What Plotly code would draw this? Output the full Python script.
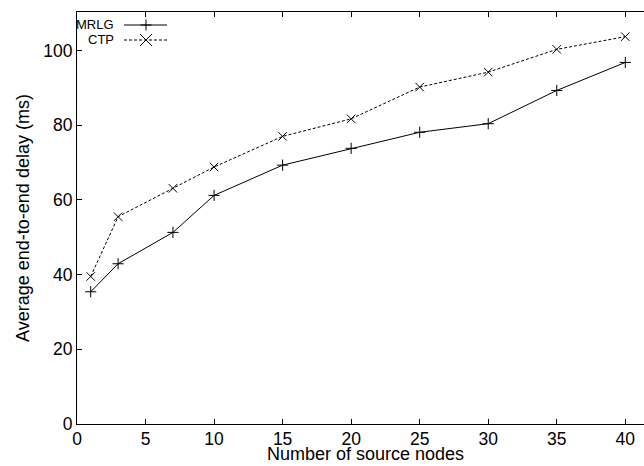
import plotly.graph_objects as go

# Number of source nodes and measured average end-to-end delay (ms)
source_nodes = [1, 3, 7, 10, 15, 20, 25, 30, 35, 40]
mrlg_delay = [35.4, 42.9, 51.3, 61.2, 69.3, 73.8, 78.1, 80.4, 89.3, 96.8]
ctp_delay = [39.5, 55.5, 63.1, 68.8, 77.0, 81.7, 90.2, 94.2, 100.3, 103.7]
series_names = ["MRLG", "CTP"]
x_ticks = [0, 5, 10, 15, 20, 25, 30, 35, 40]
y_ticks = [0, 20, 40, 60, 80, 100]

W, H = 644, 466
L, R, T, B = 77, 0, 12, 42
FONT = "Liberation Sans, Arial, Helvetica, sans-serif"


def px_x(px):
    return (px - L) / (W - L - R)


def px_y(py):
    return (H - B - py) / (H - T - B)


fig = go.Figure()
fig.add_trace(go.Scatter(
    x=source_nodes, y=mrlg_delay, name=series_names[0], mode="lines+markers",
    line=dict(color="black", width=1),
    marker=dict(symbol="cross-thin-open", size=8, line=dict(color="black", width=1)),
))
fig.add_trace(go.Scatter(
    x=source_nodes, y=ctp_delay, name=series_names[1], mode="lines+markers",
    line=dict(color="black", width=1, dash="3px,2px"),
    marker=dict(symbol="x-thin-open", size=8.5, line=dict(color="black", width=1)),
))

# Key in the upper-left corner: label, line sample, point symbol
shapes = []
annotations = []
key_rows = [(series_names[0], 25, "solid", "plus"), (series_names[1], 40, "3px,2px", "x")]
for name, row_y, dash, sym in key_rows:
    annotations.append(dict(
        x=px_x(116), y=px_y(row_y), xref="paper", yref="paper", text=name,
        showarrow=False, xanchor="right", yanchor="middle",
        font=dict(family=FONT, size=13, color="black"),
    ))
    shapes.append(dict(
        type="line", xref="paper", yref="paper",
        x0=px_x(124), x1=px_x(167), y0=px_y(row_y), y1=px_y(row_y),
        line=dict(color="black", width=1, dash=dash),
    ))
    cx, cy = px_x(146), px_y(row_y)
    if sym == "plus":
        segs = [(-5.5, 0, 5.5, 0), (0, -5.5, 0, 5.5)]
    else:
        segs = [(-6, -6, 6, 6), (-6, 6, 6, -6)]
    for x0, y0, x1, y1 in segs:
        shapes.append(dict(
            type="line", xref="paper", yref="paper",
            xsizemode="pixel", ysizemode="pixel", xanchor=cx, yanchor=cy,
            x0=x0, x1=x1, y0=y0, y1=y1, line=dict(color="black", width=1),
        ))

annotations.append(dict(
    x=px_x(365), y=px_y(466), xref="paper", yref="paper",
    text="Number of source nodes", showarrow=False,
    xanchor="center", yanchor="bottom",
    font=dict(family=FONT, size=18, color="black"),
))

fig.update_layout(
    width=W, height=H,
    margin=dict(l=L, r=R, t=T, b=B, pad=0),
    paper_bgcolor="white", plot_bgcolor="white",
    showlegend=False,
    font=dict(family=FONT, size=18, color="black"),
    shapes=shapes, annotations=annotations,
    xaxis=dict(
        range=[0, (W - L - R) / ((625 - 76.7) / 40)],
        tickvals=x_ticks, ticks="inside", ticklen=5, tickcolor="black",
        showline=True, linecolor="black", linewidth=1, mirror="ticks",
        showgrid=False, zeroline=False, ticklabelstandoff=-1,
        tickfont=dict(family=FONT, size=17.5, color="black"),
    ),
    yaxis=dict(
        range=[0, 110.3],
        tickvals=y_ticks, ticks="inside", ticklen=5, tickcolor="black",
        showline=True, linecolor="black", linewidth=1, mirror=False,
        showgrid=False, zeroline=False,
        tickfont=dict(family=FONT, size=17.5, color="black"),
        title=dict(text="Average end-to-end delay (ms)", standoff=8,
                   font=dict(family=FONT, size=18, color="black")),
    ),
)

fig.write_html("out.html")
